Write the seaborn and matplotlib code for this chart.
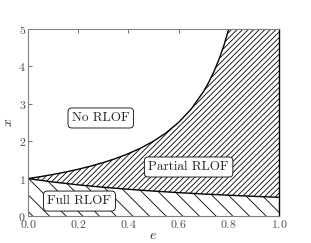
import numpy as np
import matplotlib
matplotlib.use('Agg')
import matplotlib.pyplot as plt
import seaborn as sns

# boundary curves
e_upper = [0.0, 0.05, 0.1, 0.15, 0.2, 0.25, 0.3, 0.35, 0.4, 0.45, 0.5, 0.55,
           0.6, 0.65, 0.7, 0.72, 0.74, 0.76, 0.78, 0.8]
x_upper = [1.0, 1.053, 1.111, 1.176, 1.25, 1.333, 1.429, 1.538, 1.667, 1.818, 2.0, 2.222,
           2.5, 2.857, 3.333, 3.571, 3.846, 4.167, 4.545, 5.0]
e_lower = [0.0, 0.1, 0.2, 0.3, 0.4, 0.5, 0.6, 0.7, 0.8, 0.9, 1.0]
x_lower = [1.0, 0.909, 0.833, 0.769, 0.714, 0.667, 0.625, 0.588, 0.556, 0.526, 0.5]

labels = ["No RLOF", "Partial RLOF", "Full RLOF"]
label_pos = [(0.29, 2.62), (0.64, 1.31), (0.205, 0.4)]

sns.set_theme(style='ticks')
plt.rcParams['font.family'] = 'serif'
plt.rcParams['font.serif'] = ['cmr10', 'DejaVu Serif']
plt.rcParams['mathtext.fontset'] = 'cm'
plt.rcParams['axes.formatter.use_mathtext'] = True
plt.rcParams['hatch.linewidth'] = 0.6

fig = plt.figure(figsize=(3.11, 2.43), dpi=100)
ax = fig.add_axes([0.09, 0.111, 0.807, 0.77])

# common grid for filling
e_grid = np.array(e_upper + [1.0])
top = np.array(x_upper + [5.0])
low = np.interp(e_grid, e_lower, x_lower)

ax.fill_between(e_grid, low, top, facecolor='white', edgecolor='black',
                hatch='//////', linewidth=0)
ax.fill_between(e_lower, 0, x_lower, facecolor='white', edgecolor='black',
                hatch='\\\\', linewidth=0)

sns.lineplot(x=e_upper, y=x_upper, color='black', lw=1.0, ax=ax, sort=False)
sns.lineplot(x=e_lower, y=x_lower, color='black', lw=1.0, ax=ax, sort=False)

for txt, (px, py) in zip(labels, label_pos):
    ax.text(px, py, txt, ha='center', va='center', fontsize=9.5,
            bbox=dict(boxstyle='round,pad=0.3', fc='white', ec='black', lw=0.6))

ax.set_xlim(0, 1.0)
ax.set_ylim(0, 5)
ax.set_xticks([0.0, 0.2, 0.4, 0.6, 0.8, 1.0])
ax.set_yticks([0, 1, 2, 3, 4, 5])
ax.set_xlabel('$e$', fontsize=10, labelpad=0)
ax.set_ylabel('$x$', fontsize=10, labelpad=2)
ax.tick_params(direction='in', top=True, right=True, labelsize=8.5, length=3,
               width=0.6, colors='0.35', labelcolor='0.3', pad=1.5)
for s in ['left', 'top', 'bottom']:
    ax.spines[s].set_color('0.5')
    ax.spines[s].set_linewidth(0.8)
ax.spines['right'].set_color('black')
ax.spines['right'].set_linewidth(1.0)

plt.savefig('out.png', dpi=100)
